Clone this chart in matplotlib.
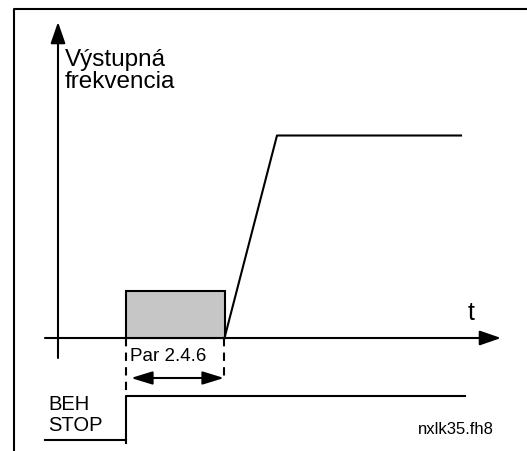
import matplotlib.pyplot as plt
from matplotlib.patches import Rectangle

# output frequency curve (time, frequency) in drawing units
freq_t = [224.5, 277, 461]
freq_v = [339, 136.5, 136.5]

# DC brake interval (Par 2.4.6)
brake_start = 126
brake_end = 225
brake_level = 292

# run/stop signal
run_t = [45, 126, 126, 465]
run_v = [441, 441, 397, 397]

labels = {
    "ylabel": "Výstupná\nfrekvencia",
    "xlabel": "t",
    "param": "Par 2.4.6",
    "run": "BEH",
    "stop": "STOP",
    "code": "nxlk35.fh8",
}

plt.rcParams['font.family'] = ['Liberation Sans', 'DejaVu Sans']

fig = plt.figure(figsize=(5.27, 4.52), dpi=100)
ax = fig.add_axes([0, 0, 1, 1])
ax.set_xlim(0, 527)
ax.set_ylim(452, 0)
ax.axis('off')

lw = 1.5
# frame
ax.plot([14, 14, 527], [452, 10, 10], color='black', lw=lw)

# axes with arrows
ax.annotate('', xy=(58, 23), xytext=(58, 359),
            arrowprops=dict(arrowstyle='-|>,head_length=1.3,head_width=0.45', color='black', lw=lw,
                            shrinkA=0, shrinkB=0))
ax.annotate('', xy=(501, 339), xytext=(45, 339),
            arrowprops=dict(arrowstyle='-|>,head_length=1.3,head_width=0.45', color='black', lw=lw,
                            shrinkA=0, shrinkB=0))

# brake block
ax.add_patch(Rectangle((brake_start, brake_level), brake_end - brake_start, 339 - brake_level,
                       facecolor='#c6c6c6', edgecolor='black', lw=lw, zorder=3))

# frequency ramp
ax.plot(freq_t, freq_v, color='black', lw=lw, zorder=4)

# dashed markers
ax.plot([brake_start, brake_start], [339, 397], color='black', lw=lw, ls=(0, (4, 3)))
ax.plot([brake_end - 1, brake_end - 1], [339, 381], color='black', lw=lw, ls=(0, (4, 3)))

# double arrow
ax.annotate('', xy=(131, 379), xytext=(224, 379),
            arrowprops=dict(arrowstyle='<|-|>,head_length=1.3,head_width=0.4', color='black', lw=lw,
                            shrinkA=0, shrinkB=0))

# run/stop signal
ax.plot(run_t, run_v, color='black', lw=lw)
ax.plot([126, 126], [441, 444], color='black', lw=lw)

# texts
ax.text(65, 71, labels["ylabel"], fontsize=17.5, ha='left', va='center', linespacing=0.95)
ax.text(468, 313, labels["xlabel"], fontsize=18, ha='left', va='center')
ax.text(130, 357, labels["param"], fontsize=13.5, ha='left', va='center')
ax.text(48, 405, labels["run"], fontsize=14.5, ha='left', va='center')
ax.text(48, 426, labels["stop"], fontsize=14.5, ha='left', va='center')
ax.text(494, 430, labels["code"], fontsize=12, ha='right', va='center')

fig.savefig('out.png', dpi=100)
